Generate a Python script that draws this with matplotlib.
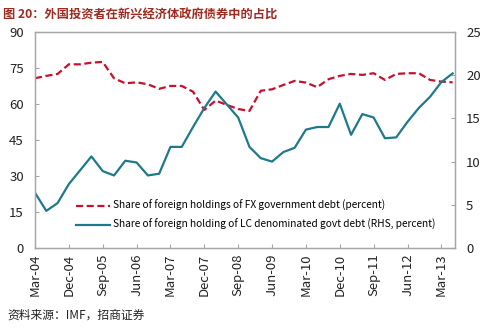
import matplotlib
matplotlib.use("Agg")
from matplotlib import pyplot as plt

plt.rcParams['font.family'] = ['Noto Sans CJK SC', 'DejaVu Sans']

months = ['Mar', 'Jun', 'Sep', 'Dec']
quarters = [months[(i + 0) % 4] + '-' + '%02d' % (4 + i // 4) for i in range(38)]

# share of foreign holdings of FX government debt (percent, left axis)
fx_share = [70.7, 71.7, 72.5, 76.5, 76.5, 77.2, 77.5, 70.7, 68.6, 69.0,
            68.2, 66.3, 67.5, 67.5, 65.1, 57.5, 61.4, 59.6, 57.9, 57.1,
            65.5, 66.1, 67.9, 69.6, 68.9, 67.0, 70.3, 71.7, 72.5, 72.1,
            72.8, 70.0, 72.5, 72.8, 72.8, 70.0, 69.3, 69.0]
# share of foreign holding of LC govt debt (RHS, percent)
lc_share = [6.4, 4.3, 5.2, 7.4, 9.0, 10.6, 8.9, 8.4, 10.1, 9.9,
            8.4, 8.6, 11.7, 11.7, 14.0, 16.2, 18.1, 16.6, 15.1, 11.7,
            10.4, 10.0, 11.1, 11.6, 13.7, 14.0, 14.0, 16.7, 13.1, 15.5,
            15.1, 12.7, 12.8, 14.6, 16.2, 17.5, 19.2, 20.2]

tick_idx = list(range(0, 38, 3))
tick_labels = [quarters[i] for i in tick_idx]

red = '#C8102E'
teal = '#1E7A8A'
gray = '#A6A6A6'

fig = plt.figure(figsize=(4.9, 3.29), dpi=100)
ax = fig.add_axes([0.0714, 0.246, 0.857, 0.657])
ax2 = ax.twinx()

x = list(range(len(quarters)))
l1, = ax.plot(x, fx_share, color=red, lw=1.6, ls=(0, (3.2, 1.6)),
              label='Share of foreign holdings of FX government debt (percent)')
l2, = ax2.plot(x, lc_share, color=teal, lw=1.6,
               label='Share of foreign holding of LC denominated govt debt (RHS, percent)')

ax.set_xlim(0, 37.2)
ax.set_ylim(0, 90)
ax.set_yticks(range(0, 91, 15))
ax2.set_ylim(0, 25)
ax2.set_yticks(range(0, 26, 5))
ax.set_xticks(tick_idx)
ax.set_xticklabels(tick_labels, rotation=90, fontsize=9, color='#222222')

for a in (ax, ax2):
    for s in a.spines.values():
        s.set_color(gray)
        s.set_linewidth(0.9)
    a.tick_params(direction='in', length=3, color=gray, labelsize=9.5,
                  labelcolor='#222222', pad=8)
ax.tick_params(axis='x', pad=4)

ax.legend(handles=[l1, l2], loc='lower left', bbox_to_anchor=(0.075, 0.04),
          frameon=False, fontsize=7.3, handlelength=3.4, handletextpad=0.3,
          labelspacing=0.8)

fig.text(0.006, 0.975, '图 20：外国投资者在新兴经济体政府债券中的占比',
         fontsize=8.8, color='#9E2A20', fontweight='bold', va='top')
fig.text(0.015, 0.03, '资料来源：IMF，招商证券', fontsize=8.5, color='#222222')

fig.savefig('out.png', dpi=100)
